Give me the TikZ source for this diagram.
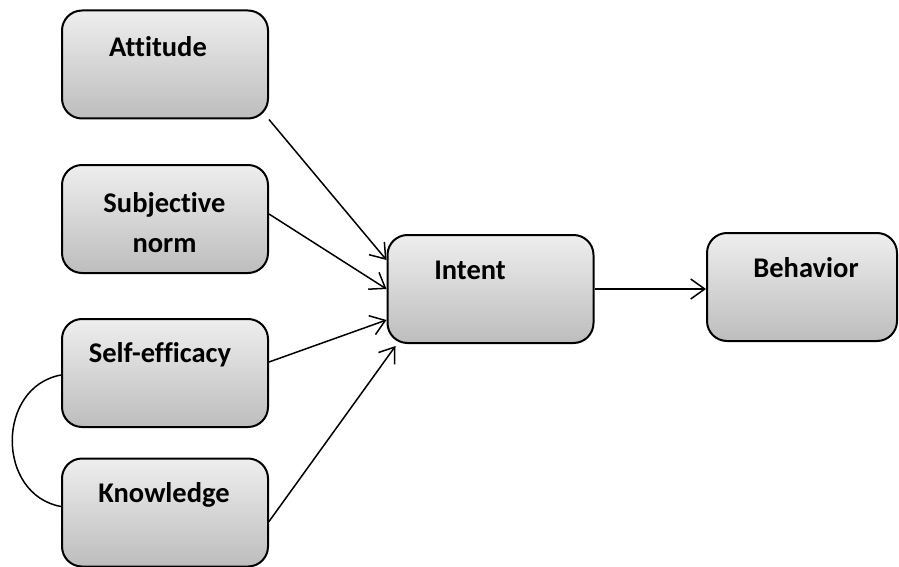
\documentclass[tikz,border=0pt]{standalone}
\usepackage{fontspec}
\setmainfont{Carlito}[Ligatures=NoCommon]
\usetikzlibrary{arrows.meta}
\definecolor{boxtop}{HTML}{EEEEEE}
\definecolor{boxbot}{HTML}{BDBDBD}
\begin{document}
\begin{tikzpicture}[x=1pt,y=-1pt,
  box/.style={draw=black,line width=2pt,rounded corners=20pt,top color=boxtop,bottom color=boxbot,
    minimum width=206pt,minimum height=108pt,inner sep=0pt},
  lbl/.style={font=\fontsize{28.5}{40}\selectfont\bfseries,inner sep=0pt,align=center},
  conn/.style={line width=1.5pt,-{Straight Barb[length=14pt,width=20pt,line width=1.5pt]}}
]
\useasboundingbox (0,0) rectangle (899,567);
\node[box] (att) at (165,64.5) {};
\node[box] (sn) at (165,219) {};
\node[box] (se) at (165,373) {};
\node[box] (kn) at (165,512.5) {};
\node[box] (int) at (490.5,289) {};
\node[box,minimum width=190pt] (beh) at (802,287) {};

\node[lbl] (attl) at (158,47) {Attitude};
\node[lbl] (snl) at (164.5,222.5) {Subjective\\norm};
\node[lbl] (sel) at (160,355) {Self-efficacy};
\node[lbl] (knl) at (164,495) {Knowledge};
\node[lbl] (intl) at (470,270) {Intent};
\node[lbl] (behl) at (806,268) {Behavior};

\draw[conn] (att.south east) -- ([yshift=29pt]int.west);
\draw[conn] ([yshift=5pt]sn.east) -- (int.west);
\draw[conn] ([yshift=11pt]se.east) -- ([yshift=-31pt]int.west);
\draw[conn] ([yshift=-9pt]kn.east) -- ([xshift=9pt,yshift=-2pt]int.south west);
\draw[conn] (int.east) -- (int.east -| beh.west);
\draw[line width=1.5pt] ([yshift=-2pt]se.west) .. controls +(-65,12) and +(-65,-12) .. ([yshift=6pt]kn.west);
\end{tikzpicture}
\end{document}
